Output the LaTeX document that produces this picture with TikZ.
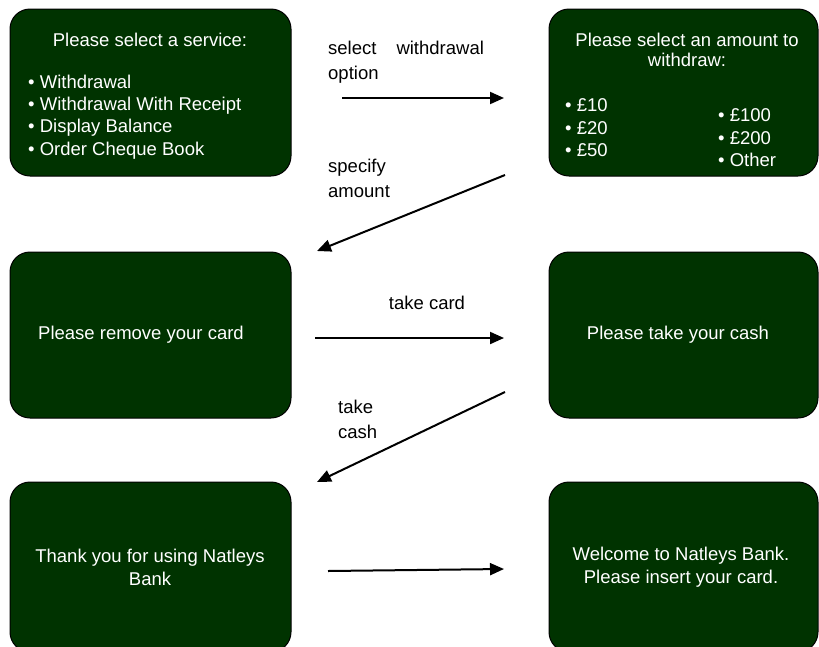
\documentclass[tikz,border=0pt]{standalone}
\usepackage{fontspec}
\setmainfont{Liberation Sans}
\usetikzlibrary{arrows.meta}
\definecolor{screen}{RGB}{0,51,0}
\tikzset{
  screenbox/.style={draw=black, line width=1pt, fill=screen, rounded corners=20pt},
  screentext/.style={text=white, inner sep=0pt, font=\fontsize{18.5}{21.5}\selectfont},
  lbl/.style={text=black, inner sep=0pt, font=\fontsize{18.5}{25}\selectfont},
  flow/.style={line width=2pt, -{Triangle[length=14pt,width=12pt]}}
}
\begin{document}
\begin{tikzpicture}[x={(1pt,0)}, y={(0,-1pt)}]
\useasboundingbox (0,0) rectangle (819,646);
% boxes
\draw[screenbox] (10,9) rectangle (291,176);
\draw[screenbox] (549,9) rectangle (818,176);
\draw[screenbox] (10,252) rectangle (291,418);
\draw[screenbox] (549,252) rectangle (818,418);
\draw[screenbox] (10,482) rectangle (291,652);
\draw[screenbox] (549,482) rectangle (818,652);
% box 1
\node[screentext] (t1) at (150,40) {Please select a service:};
\node[screentext, anchor=west, align=left, font=\fontsize{18.5}{22.3}\selectfont] (l1) at (28,117) {• Withdrawal\\• Withdrawal With Receipt\\• Display Balance\\• Order Cheque Book};
% box 2
\node[screentext, align=center, font=\fontsize{18.5}{20.5}\selectfont] (t2) at (687,50) {Please select an amount to\\withdraw:};
\node[screentext, anchor=west, align=left, font=\fontsize{18.5}{22.5}\selectfont] (l2a) at (565,128) {• £10\\• £20\\• £50};
\node[screentext, anchor=west, align=left, font=\fontsize{18.5}{22.5}\selectfont] (l2b) at (718,138) {• £100\\• £200\\• Other};
% box 3,4
\node[screentext] (t3) at (141,335) {Please remove your card};
\node[screentext] (t4) at (678,335) {Please take your cash};
% box 5,6
\node[screentext, align=center, font=\fontsize{18.5}{23}\selectfont] (t5) at (150,567) {Thank you for using Natleys\\Bank};
\node[screentext, align=center, font=\fontsize{18.5}{23}\selectfont] (t6) at (681,567) {Welcome to Natleys Bank.\\Please insert your card.};
% labels
\node[lbl, anchor=west, align=left] (lab1) at (328,62) {select\hspace{20pt}withdrawal\\option};
\node[lbl, anchor=west, align=left] (lab2) at (328,178.5) {specify\\amount};
\node[lbl] (lab3) at (427,303) {take card};
\node[lbl, anchor=west, align=left] (lab4) at (338,419.5) {take\\cash};
% arrow end points
\coordinate (a1s) at (342,98);  \coordinate (a1e) at (504,98);
\coordinate (a2s) at (505,175); \coordinate (a2e) at (317,251);
\coordinate (a3s) at (315,338); \coordinate (a3e) at (504,338);
\coordinate (a4s) at (505,392); \coordinate (a4e) at (317,482);
\coordinate (a5s) at (328,571); \coordinate (a5e) at (504,569);
\draw[flow] (a1s) -- (a1e);
\draw[flow] (a2s) -- (a2e);
\draw[flow] (a3s) -- (a3e);
\draw[flow] (a4s) -- (a4e);
\draw[flow] (a5s) -- (a5e);
\end{tikzpicture}
\end{document}
